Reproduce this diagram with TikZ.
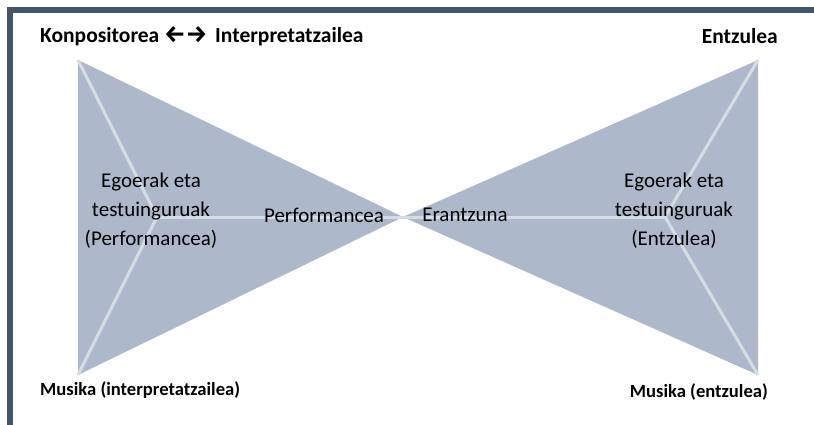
\documentclass[tikz,border=0pt]{standalone}
\usepackage{fontspec}
\setmainfont{Carlito}
\newfontfamily\arrowfont{Fira Sans}
\begin{document}
\begin{tikzpicture}[x=1pt,y=-1pt,
  bar/.style={fill=barcol,draw=none},
  wing/.style={fill=wingcol,draw=none},
  spoke/.style={draw=spokecol,line width=3pt},
  role/.style={font=\fontsize{21.5}{24}\selectfont\bfseries,inner sep=0pt},
  music/.style={font=\fontsize{18.6}{22}\selectfont\bfseries,inner sep=0pt},
  part/.style={font=\fontsize{21}{29}\selectfont,inner sep=0pt,align=center}]
\definecolor{barcol}{HTML}{44546A}
\definecolor{wingcol}{HTML}{ADB9CA}
\definecolor{spokecol}{HTML}{D6DCE4}
\useasboundingbox (0,0) rectangle (814,425);
\fill[white] (0,0) rectangle (814,425);
% frame bars
\fill[bar] (7,7) rectangle (814,13);
\fill[bar] (7,7) rectangle (13,425);
% corner points
\coordinate (tl) at (78,60);
\coordinate (bl) at (78,375);
\coordinate (tr) at (758,60);
\coordinate (br) at (758,375);
\coordinate (mid) at (403,217);
\coordinate (jl) at (157,217);
\coordinate (jr) at (665,217);
% two wings
\fill[wing] (tl) -- (mid) -- (bl) -- cycle;
\fill[wing] (tr) -- (mid) -- (br) -- cycle;
% spokes
\draw[spoke] (tl) -- (jl) -- (bl);
\draw[spoke] (jl) -- (mid) -- (jr);
\draw[spoke] (tr) -- (jr) -- (br);
% labels
\node[role,anchor=west] (comp) at (40,36) {Konpositorea {\arrowfont\fontsize{24}{24}\selectfont ←→}\hspace{3pt} Interpretatzailea};
\node[role,anchor=east] (aud) at (778,36) {Entzulea};
\node[music,anchor=west] (mperf) at (40,390) {Musika (interpretatzailea)};
\node[music,anchor=east] (maud) at (768,392) {Musika (entzulea)};
\node[part] (ctxl) at (151,211) {Egoerak eta\\testuinguruak\\(Performancea)};
\node[part] (perf) at (324,215) {Performancea};
\node[part] (resp) at (465,215) {Erantzuna};
\node[part] (ctxr) at (674,211) {Egoerak eta\\testuinguruak\\(Entzulea)};
\end{tikzpicture}
\end{document}
